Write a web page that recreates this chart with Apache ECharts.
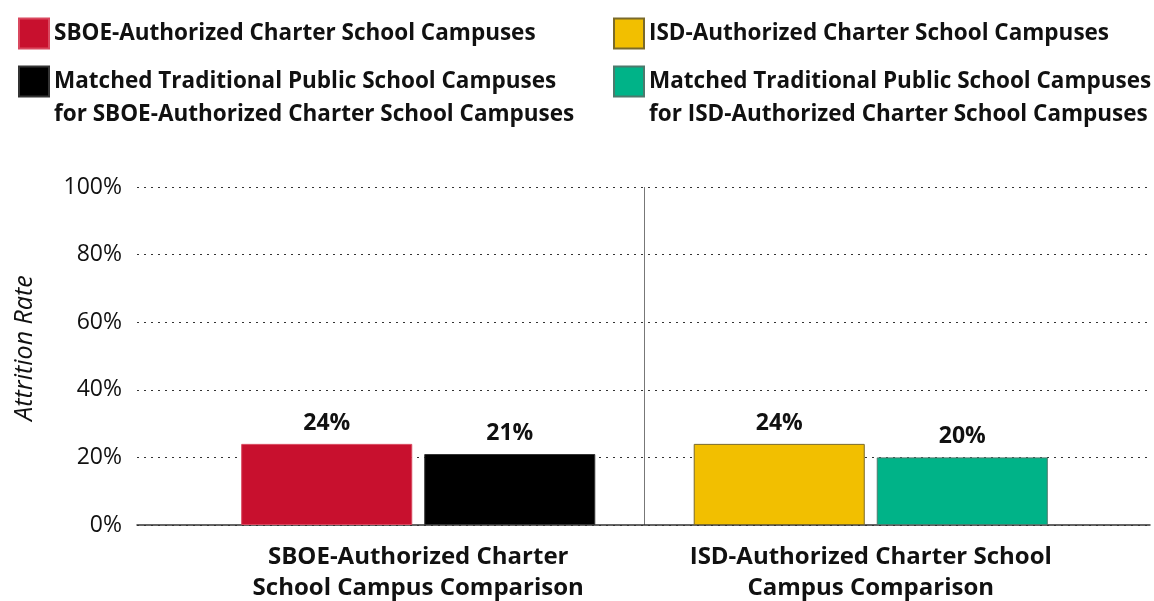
<!DOCTYPE html>
<html>
<head>
<meta charset="utf-8">
<script src="https://cdn.jsdelivr.net/npm/echarts@6/dist/echarts.min.js"></script>
<style>
html, body { margin: 0; padding: 0; background: #fff; }
#chart { width: 1154px; height: 601px; }
</style>
</head>
<body>
<div id="chart"></div>
<script>
var categories = ['SBOE-Authorized Charter\nSchool Campus Comparison', 'ISD-Authorized Charter School\nCampus Comparison'];
var seriesNames = [
  'SBOE-Authorized Charter School Campuses',
  'Matched Traditional Public School Campuses for SBOE-Authorized Charter School Campuses',
  'ISD-Authorized Charter School Campuses',
  'Matched Traditional Public School Campuses for ISD-Authorized Charter School Campuses'
];
var sboeCharter = [24, '-'];
var sboeMatched = [21, '-'];
var isdCharter = ['-', 24];
var isdMatched = ['-', 20];
var yTicks = [0, 20, 40, 60, 80, 100];

var font = '"Open Sans", "DejaVu Sans", sans-serif';
var colors = ['#c8102e', '#000000', '#f2bf00', '#00b388'];

var chart = echarts.init(document.getElementById('chart'));

function barLabel() {
  return {
    show: true,
    position: 'top',
    distance: 9,
    formatter: '{c}%',
    fontFamily: font,
    fontWeight: 'bold',
    fontSize: 23,
    color: '#111'
  };
}

// one legend per series so each block sits where the original has it
function legendBlock(name, left, top) {
  return {
    left: left, top: top, itemWidth: 30, itemHeight: 30, icon: 'rect',
    data: [name],
    formatter: function (n) {
      // two-line names get an empty first line so the swatch lines up with line one
      return n.indexOf(' for ') > 0 ? '\n' + n.replace(' for ', '\nfor ') : n;
    },
    textStyle: { fontFamily: font, fontWeight: 'bold', fontSize: 22.5, lineHeight: 33, color: '#111' }
  };
}

chart.setOption({
  animation: false,
  color: colors,
  textStyle: { fontFamily: font },
  legend: [
    legendBlock(seriesNames[0], 13, 12),
    legendBlock(seriesNames[1], 13, 27),
    legendBlock(seriesNames[2], 608, 12),
    legendBlock(seriesNames[3], 608, 27)
  ],
  grid: [
    { left: 137, right: 4, top: 187, bottom: 76, outerBoundsMode: 'none' },
    { left: 192, right: 57, top: 187, bottom: 76, outerBoundsMode: 'none' }
  ],
  xAxis: [
    {
      type: 'value', gridIndex: 0, min: 0, max: 1,
      axisLine: { show: true, lineStyle: { color: '#333', width: 1.5 } },
      axisTick: { show: false }, axisLabel: { show: false }, splitLine: { show: false }
    },
    {
      type: 'category', gridIndex: 1, data: categories,
      axisLine: { show: false }, axisTick: { show: false },
      axisLabel: {
        interval: 0, margin: 17, fontFamily: font, fontWeight: 'bold', fontSize: 24, lineHeight: 31, color: '#111'
      },
      splitLine: {
        show: true, interval: 0, showMinLine: false, showMaxLine: false,
        lineStyle: { color: '#777', width: 1 }
      }
    }
  ],
  yAxis: [
    {
      type: 'value', gridIndex: 0, min: yTicks[0], max: yTicks[yTicks.length - 1], interval: 20,
      name: 'Attrition Rate', nameLocation: 'middle', nameGap: 100,
      nameTextStyle: { fontFamily: font, fontStyle: 'italic', fontSize: 25, color: '#111', padding: [0, 0, 0, 16] },
      axisLine: { show: false }, axisTick: { show: false },
      axisLabel: { formatter: '{value}%', margin: 15, fontFamily: font, fontSize: 23, color: '#111' },
      splitLine: { lineStyle: { type: [2, 5], color: '#333', width: 1.2 } }
    },
    {
      type: 'value', gridIndex: 1, min: 0, max: 100, show: false
    }
  ],
  series: [
    {
      name: seriesNames[0], type: 'bar', xAxisIndex: 1, yAxisIndex: 1, stack: 'a',
      barWidth: '37.8%', barGap: '7%', data: sboeCharter, label: barLabel(),
      itemStyle: { color: colors[0], borderColor: '#d9485f', borderWidth: 1 }
    },
    {
      name: seriesNames[1], type: 'bar', xAxisIndex: 1, yAxisIndex: 1, stack: 'b',
      barWidth: '37.8%', barGap: '7%', data: sboeMatched, label: barLabel(),
      itemStyle: { color: colors[1], borderColor: '#333', borderWidth: 1 }
    },
    {
      name: seriesNames[2], type: 'bar', xAxisIndex: 1, yAxisIndex: 1, stack: 'a',
      barWidth: '37.8%', barGap: '7%', data: isdCharter, label: barLabel(),
      itemStyle: { color: colors[2], borderColor: '#7a6a2a', borderWidth: 1 }
    },
    {
      name: seriesNames[3], type: 'bar', xAxisIndex: 1, yAxisIndex: 1, stack: 'b',
      barWidth: '37.8%', barGap: '7%', data: isdMatched, label: barLabel(),
      itemStyle: { color: colors[3], borderColor: '#4d7a6d', borderWidth: 1 }
    }
  ]
});
</script>
</body>
</html>
